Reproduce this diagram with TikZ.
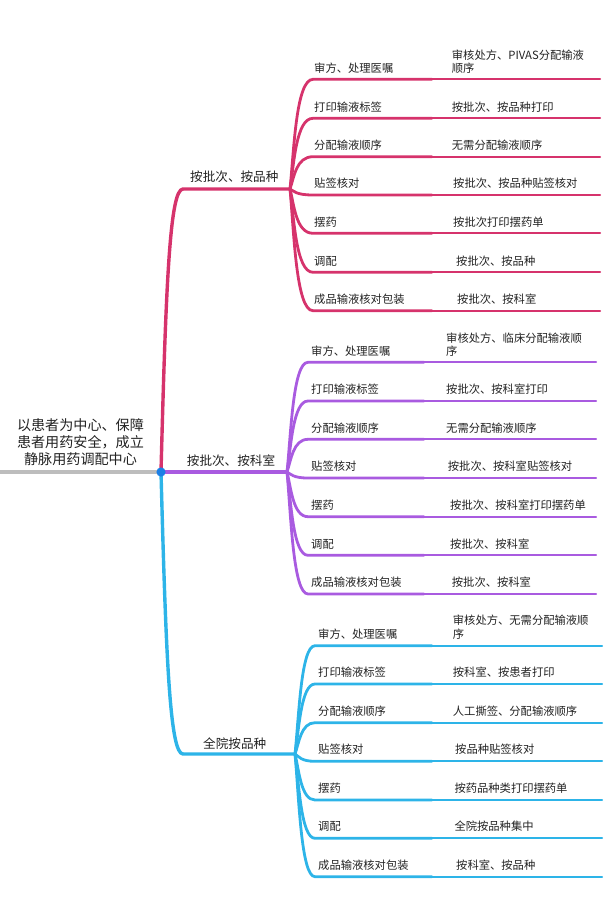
\documentclass[tikz,border=0pt]{standalone}
\usepackage{fontspec}
\setmainfont{Noto Sans CJK SC}
\definecolor{cred}{HTML}{D6336C}
\definecolor{cpur}{HTML}{A95BE0}
\definecolor{cblu}{HTML}{2DB4E8}
\definecolor{chub}{HTML}{1C7FE6}
\definecolor{cgry}{HTML}{BDBDBD}
\definecolor{ctxt}{HTML}{222222}
\begin{document}
\begin{tikzpicture}[x=1pt,y=-1pt,
  mainln/.style={line width=3.4pt,line cap=round},
  childln/.style={line width=2.8pt,line cap=round},
  gchildln/.style={line width=2.2pt,line cap=round},
  lbl/.style={anchor=west,inner sep=0pt,text=ctxt,font=\fontsize{11.3}{13.3}\selectfont,align=left},
  blbl/.style={anchor=west,inner sep=0pt,text=ctxt,font=\fontsize{12.6}{15}\selectfont},
  rootlbl/.style={inner sep=0pt,text=ctxt,align=center,font=\fontsize{14.1}{17}\selectfont}]
\useasboundingbox (0,0) rectangle (610,899);
% root
\coordinate (hub) at (161,472);
\coordinate (rootL) at (0,472);
\node[rootlbl] (root) at (80.5,442.5) {以患者为中心、保障\\患者用药安全，成立\\静脉用药调配中心};
% main branches
\coordinate (rc) at (183,189);
\coordinate (rb) at (290,189);
\coordinate (pb) at (287,472);
\coordinate (bc) at (183,754);
\coordinate (bb) at (295,754);
\draw[cgry,mainln,line cap=butt] (rootL) -- (hub);
\draw[cred,mainln] (hub) .. controls (166,280) and (170,189) .. (rc) -- (rb);
\draw[cpur,mainln] (hub) -- (pb);
\draw[cblu,mainln] (hub) .. controls (166,660) and (170,754) .. (bc) -- (bb);
\node[blbl] (rlab) at (190,176.5) {按批次、按品种};
\node[blbl] (plab) at (186.7,461) {按批次、按科室};
\node[blbl] (blab) at (203,743.3) {全院按品种};
% red children
\foreach \i/\y/\gx/\gd/\c/\g in {
 1/79.3/451.7/17.6/{审方、处理医嘱}/{审核处方、PIVAS分配输液\\顺序},
 2/118.3/451.7/11.4/{打印输液标签}/{按批次、按品种打印},
 3/156.7/451.7/11.4/{分配输液顺序}/{无需分配输液顺序},
 4/195/453/11.4/{贴签核对}/{按批次、按品种贴签核对},
 5/233.3/453/11.4/{摆药}/{按批次打印摆药单},
 6/272.3/456/11.4/{调配}/{按批次、按品种},
 7/310.7/457/11.4/{成品输液核对包装}/{按批次、按科室}}
{
 \coordinate (rs\i) at (313,\y);
 \coordinate (rm\i) at (432,\y);
 \coordinate (re\i) at (600,\y);
 \draw[cred,childln] (rb) .. controls (294,{189+0.35*(\y-189)}) and (296,\y) .. (rs\i) -- (rm\i);
 \draw[cred,gchildln] (rm\i) -- (re\i);
 \node[lbl] (rt\i) at (314,{\y-11.4}) {\c};
 \node[lbl] (rg\i) at (\gx,{\y-\gd}) {\g};
}
% purple children
\foreach \i/\y/\gx/\gd/\c/\g in {
 1/362.3/446/17.3/{审方、处理医嘱}/{审核处方、临床分配输液顺\\序},
 2/401/446/11.4/{打印输液标签}/{按批次、按科室打印},
 3/439.3/446/11.4/{分配输液顺序}/{无需分配输液顺序},
 4/478/447.7/11.4/{贴签核对}/{按批次、按科室贴签核对},
 5/516.7/450/11.4/{摆药}/{按批次、按科室打印摆药单},
 6/555.3/450/11.4/{调配}/{按批次、按科室},
 7/594/451.7/11.4/{成品输液核对包装}/{按批次、按科室}}
{
 \coordinate (ps\i) at (308,\y);
 \coordinate (pm\i) at (424,\y);
 \coordinate (pe\i) at (596,\y);
 \draw[cpur,childln] (pb) .. controls (291,{472+0.35*(\y-472)}) and (293,\y) .. (ps\i) -- (pm\i);
 \draw[cpur,gchildln] (pm\i) -- (pe\i);
 \node[lbl] (pt\i) at (311,{\y-11.4}) {\c};
 \node[lbl] (pg\i) at (\gx,{\y-\gd}) {\g};
}
% blue children
\foreach \i/\y/\gx/\gd/\c/\g in {
 1/645.7/452.7/18.4/{审方、处理医嘱}/{审核处方、无需分配输液顺\\序},
 2/684/452.7/11.8/{打印输液标签}/{按科室、按患者打印},
 3/722.7/452.7/11.8/{分配输液顺序}/{人工撕签、分配输液顺序},
 4/761.3/455/11.8/{贴签核对}/{按品种贴签核对},
 5/800/454.3/11.8/{摆药}/{按药品种类打印摆药单},
 6/838.3/454.3/11.8/{调配}/{全院按品种集中},
 7/876.7/456/11.8/{成品输液核对包装}/{按科室、按品种}}
{
 \coordinate (bs\i) at (315,\y);
 \coordinate (bm\i) at (432,\y);
 \coordinate (be\i) at (602,\y);
 \draw[cblu,childln] (bb) .. controls (299,{754+0.35*(\y-754)}) and (301,\y) .. (bs\i) -- (bm\i);
 \draw[cblu,gchildln] (bm\i) -- (be\i);
 \node[lbl] (bt\i) at (318,{\y-11.8}) {\c};
 \node[lbl] (bg\i) at (\gx,{\y-\gd}) {\g};
}
\fill[chub] (hub) circle (4.6);
\end{tikzpicture}
\end{document}
